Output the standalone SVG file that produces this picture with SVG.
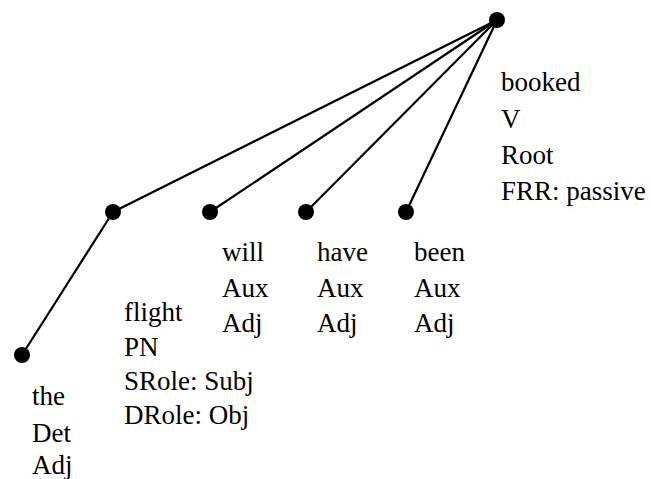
<svg xmlns="http://www.w3.org/2000/svg" width="651" height="479" viewBox="0 0 651 479">
<style>
.e{stroke:#000;stroke-width:2.2;fill:none}
.n{fill:#000}
.t{font-family:'Liberation Serif','Times New Roman','DejaVu Serif',serif;font-size:27px;fill:#000}
</style>
<rect width="651" height="479" fill="#fff"/>
<g id="edges">
<line class="e" x1="497" y1="20" x2="113" y2="212"/>
<line class="e" x1="497" y1="20" x2="210" y2="212"/>
<line class="e" x1="497" y1="20" x2="306" y2="212"/>
<line class="e" x1="497" y1="20" x2="406" y2="212"/>
<line class="e" x1="113" y1="212" x2="22" y2="355"/>
</g>
<g id="booked">
<circle class="n" cx="497" cy="20" r="8"/>
<text class="t"><tspan x="501" y="91">booked</tspan><tspan x="501" y="128">V</tspan><tspan x="501" y="164">Root</tspan><tspan x="501" y="200">FRR: passive</tspan></text>
</g>
<g id="flight">
<circle class="n" cx="113" cy="212" r="8"/>
<text class="t"><tspan x="124" y="321">flight</tspan><tspan x="124" y="356">PN</tspan><tspan x="124" y="390">SRole: Subj</tspan><tspan x="124" y="424">DRole: Obj</tspan></text>
</g>
<g id="will">
<circle class="n" cx="210" cy="212" r="8"/>
<text class="t"><tspan x="222" y="261">will</tspan><tspan x="222" y="297">Aux</tspan><tspan x="222" y="332">Adj</tspan></text>
</g>
<g id="have">
<circle class="n" cx="306" cy="212" r="8"/>
<text class="t"><tspan x="317" y="261">have</tspan><tspan x="317" y="297">Aux</tspan><tspan x="317" y="332">Adj</tspan></text>
</g>
<g id="been">
<circle class="n" cx="406" cy="212" r="8"/>
<text class="t"><tspan x="414" y="261">been</tspan><tspan x="414" y="297">Aux</tspan><tspan x="414" y="332">Adj</tspan></text>
</g>
<g id="the">
<circle class="n" cx="22" cy="355" r="8"/>
<text class="t"><tspan x="32" y="405">the</tspan><tspan x="32" y="442">Det</tspan><tspan x="32" y="474">Adj</tspan></text>
</g>
</svg>
